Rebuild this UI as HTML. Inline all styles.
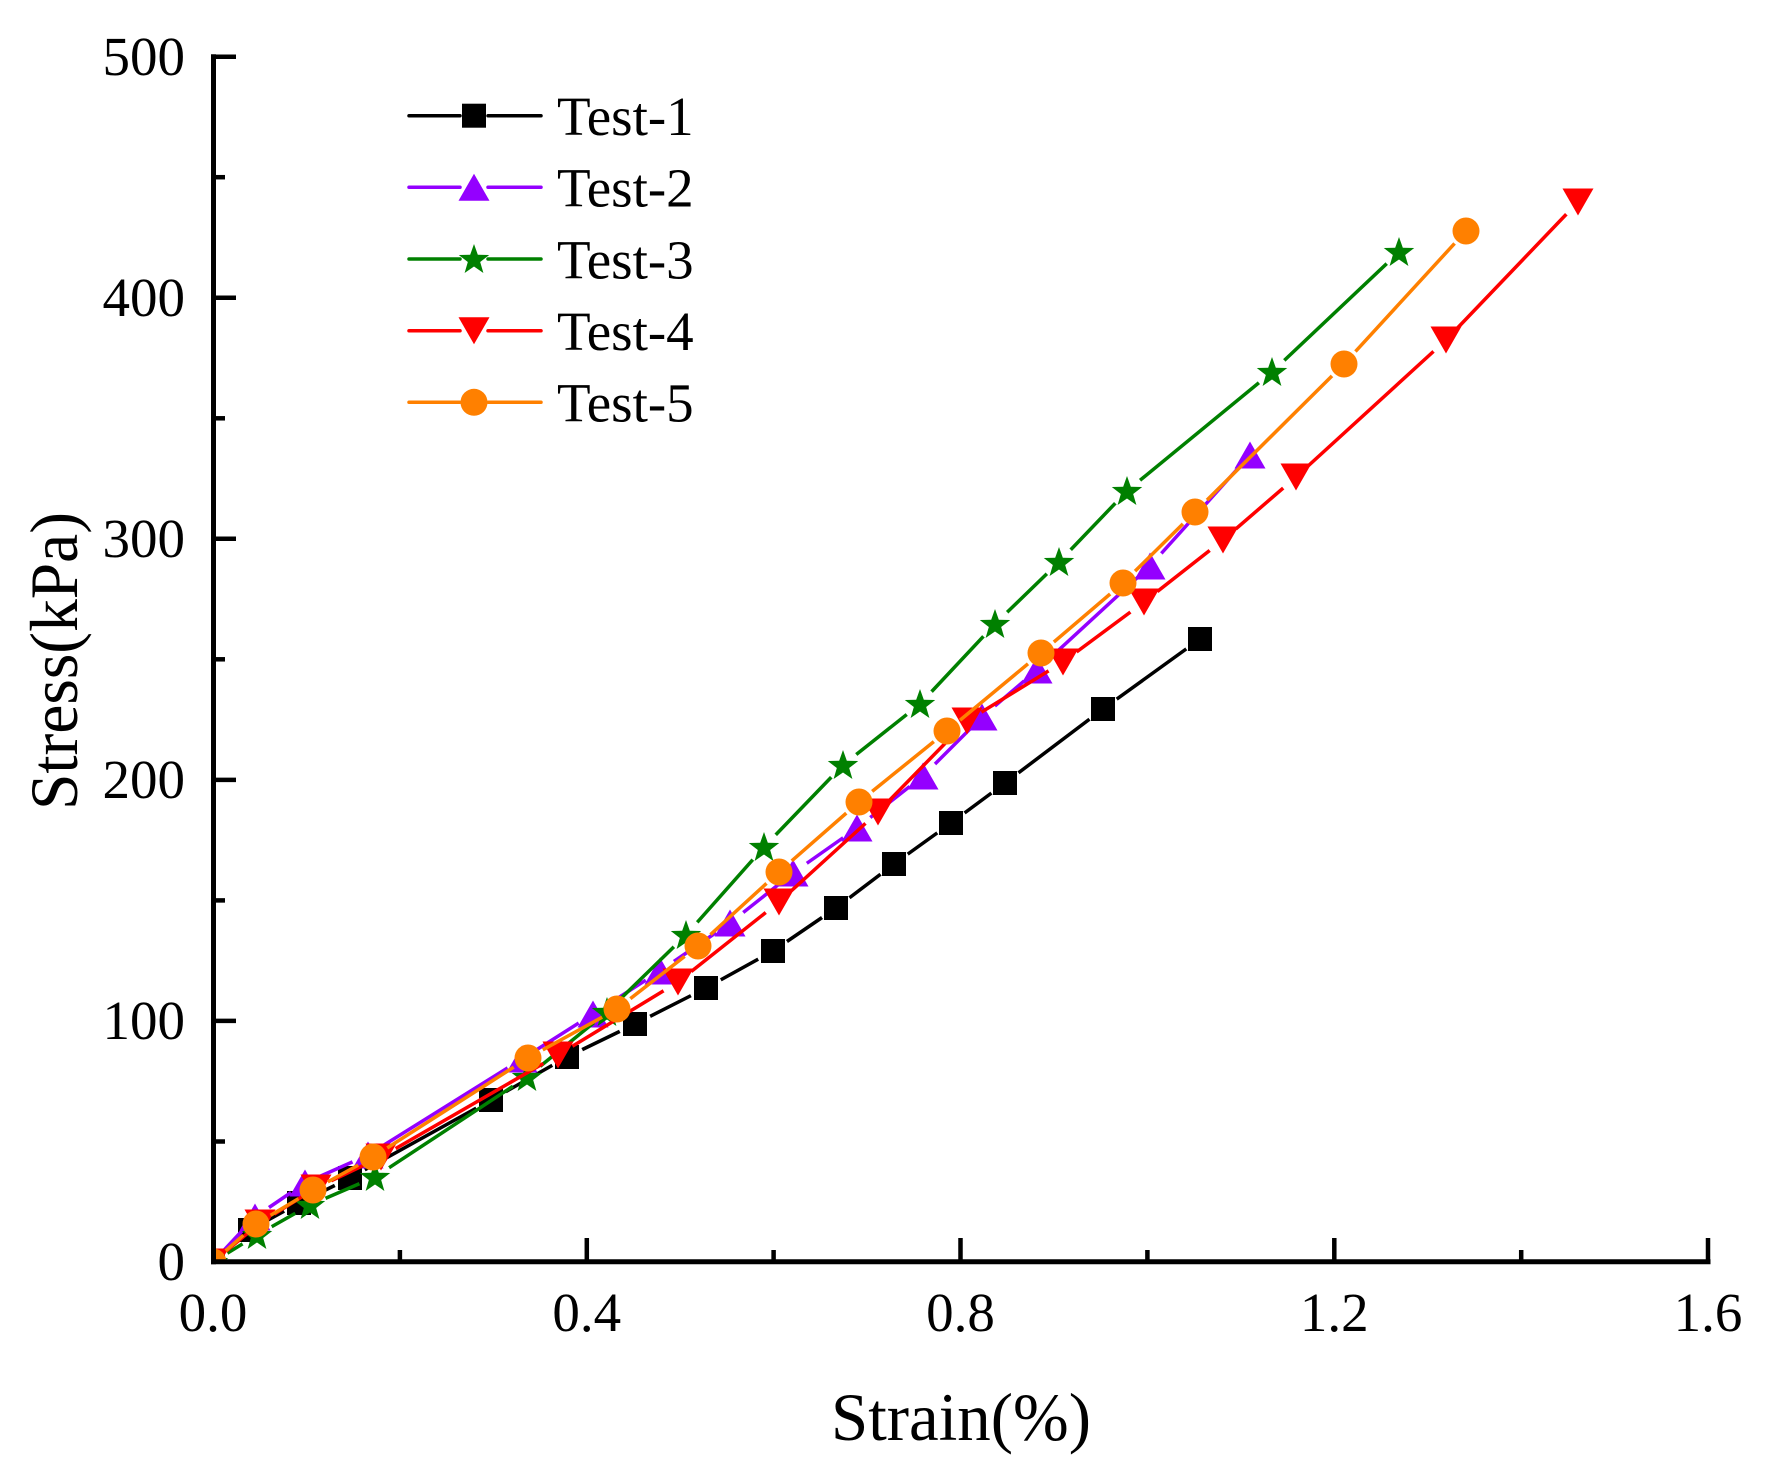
<!DOCTYPE html>
<html><head><meta charset="utf-8"><style>
html,body{margin:0;padding:0;background:#fff;}
svg{display:block;}
text{font-family:"Liberation Serif","Times New Roman",serif;fill:#000;}
</style></head><body>
<svg width="1772" height="1465" viewBox="0 0 1772 1465" xmlns="http://www.w3.org/2000/svg">
<defs>
<clipPath id="plot"><rect x="213" y="0" width="1559" height="1262"/></clipPath>
<mask id="m1" maskUnits="userSpaceOnUse" x="0" y="0" width="1772" height="1465"><rect width="1772" height="1465" fill="#fff"/><g fill="#000">
<circle cx="213" cy="1262" r="17"/><circle cx="250" cy="1230" r="17"/><circle cx="299" cy="1203" r="17"/><circle cx="350" cy="1178" r="17"/><circle cx="491" cy="1100" r="17"/><circle cx="567" cy="1057" r="17"/><circle cx="635" cy="1024" r="17"/><circle cx="706" cy="988" r="17"/><circle cx="773" cy="951" r="17"/><circle cx="836" cy="908" r="17"/><circle cx="894" cy="864" r="17"/><circle cx="951" cy="823" r="17"/><circle cx="1005" cy="783" r="17"/><circle cx="1103" cy="709" r="17"/><circle cx="1200" cy="639" r="17"/></g></mask>
<mask id="m2" maskUnits="userSpaceOnUse" x="0" y="0" width="1772" height="1465"><rect width="1772" height="1465" fill="#fff"/><g fill="#000">
<circle cx="213" cy="1262" r="17"/><circle cx="255" cy="1217" r="17"/><circle cx="305" cy="1183" r="17"/><circle cx="368" cy="1155" r="17"/><circle cx="522" cy="1059" r="17"/><circle cx="593" cy="1014" r="17"/><circle cx="660" cy="971" r="17"/><circle cx="730" cy="923" r="17"/><circle cx="793" cy="873" r="17"/><circle cx="857" cy="828" r="17"/><circle cx="923" cy="776" r="17"/><circle cx="982" cy="717" r="17"/><circle cx="1037" cy="670" r="17"/><circle cx="1150" cy="566" r="17"/><circle cx="1250" cy="455" r="17"/></g></mask>
<mask id="m3" maskUnits="userSpaceOnUse" x="0" y="0" width="1772" height="1465"><rect width="1772" height="1465" fill="#fff"/><g fill="#000">
<circle cx="213" cy="1262" r="17"/><circle cx="257" cy="1235" r="17"/><circle cx="310" cy="1205" r="17"/><circle cx="375" cy="1177" r="17"/><circle cx="527" cy="1077" r="17"/><circle cx="607" cy="1012" r="17"/><circle cx="686" cy="935" r="17"/><circle cx="764" cy="847" r="17"/><circle cx="843" cy="765" r="17"/><circle cx="920" cy="704" r="17"/><circle cx="995" cy="624" r="17"/><circle cx="1059" cy="562" r="17"/><circle cx="1127" cy="491" r="17"/><circle cx="1272" cy="372" r="17"/><circle cx="1399" cy="252" r="17"/></g></mask>
<mask id="m4" maskUnits="userSpaceOnUse" x="0" y="0" width="1772" height="1465"><rect width="1772" height="1465" fill="#fff"/><g fill="#000">
<circle cx="213" cy="1262" r="17"/><circle cx="260" cy="1223" r="17"/><circle cx="316" cy="1188" r="17"/><circle cx="381" cy="1157" r="17"/><circle cx="558" cy="1055" r="17"/><circle cx="678" cy="982" r="17"/><circle cx="779" cy="902" r="17"/><circle cx="878" cy="812" r="17"/><circle cx="967" cy="721" r="17"/><circle cx="1063" cy="662" r="17"/><circle cx="1144" cy="602" r="17"/><circle cx="1223" cy="540" r="17"/><circle cx="1296" cy="477" r="17"/><circle cx="1446" cy="340" r="17"/><circle cx="1578" cy="202" r="17"/></g></mask>
<mask id="m5" maskUnits="userSpaceOnUse" x="0" y="0" width="1772" height="1465"><rect width="1772" height="1465" fill="#fff"/><g fill="#000">
<circle cx="213" cy="1262" r="17"/><circle cx="256" cy="1224" r="17"/><circle cx="313" cy="1190" r="17"/><circle cx="373" cy="1157" r="17"/><circle cx="528" cy="1058" r="17"/><circle cx="617" cy="1009" r="17"/><circle cx="698" cy="946" r="17"/><circle cx="779" cy="872" r="17"/><circle cx="859" cy="802" r="17"/><circle cx="947" cy="731" r="17"/><circle cx="1041" cy="653" r="17"/><circle cx="1123" cy="583" r="17"/><circle cx="1195" cy="512" r="17"/><circle cx="1344" cy="364" r="17"/><circle cx="1466" cy="231" r="17"/></g></mask>
</defs>

<g clip-path="url(#plot)">
<!-- Test-1 -->
<polyline mask="url(#m1)" fill="none" stroke="#000" stroke-width="3.5" stroke-linecap="round" stroke-linejoin="round" points="213,1262 250,1230 299,1203 350,1178 491,1100 567,1057 635,1024 706,988 773,951 836,908 894,864 951,823 1005,783 1103,709 1200,639"/>
<g fill="#000">
<rect x="201" y="1250" width="24" height="24"/><rect x="238" y="1218" width="24" height="24"/><rect x="287" y="1191" width="24" height="24"/><rect x="338" y="1166" width="24" height="24"/><rect x="479" y="1088" width="24" height="24"/><rect x="555" y="1045" width="24" height="24"/><rect x="623" y="1012" width="24" height="24"/><rect x="694" y="976" width="24" height="24"/><rect x="761" y="939" width="24" height="24"/><rect x="824" y="896" width="24" height="24"/><rect x="882" y="852" width="24" height="24"/><rect x="939" y="811" width="24" height="24"/><rect x="993" y="771" width="24" height="24"/><rect x="1091" y="697" width="24" height="24"/><rect x="1188" y="627" width="24" height="24"/>
</g>
<!-- Test-2 -->
<polyline mask="url(#m2)" fill="none" stroke="#9400FF" stroke-width="3.5" stroke-linecap="round" stroke-linejoin="round" points="213,1262 255,1217 305,1183 368,1155 522,1059 593,1014 660,971 730,923 793,873 857,828 923,776 982,717 1037,670 1150,566 1250,455"/>
<g fill="#9400FF">
<polygon transform="translate(213,1262)" points="0,-13.5 15.5,13.5 -15.5,13.5"/>
<polygon transform="translate(255,1217)" points="0,-13.5 15.5,13.5 -15.5,13.5"/>
<polygon transform="translate(305,1183)" points="0,-13.5 15.5,13.5 -15.5,13.5"/>
<polygon transform="translate(368,1155)" points="0,-13.5 15.5,13.5 -15.5,13.5"/>
<polygon transform="translate(522,1059)" points="0,-13.5 15.5,13.5 -15.5,13.5"/>
<polygon transform="translate(593,1014)" points="0,-13.5 15.5,13.5 -15.5,13.5"/>
<polygon transform="translate(660,971)" points="0,-13.5 15.5,13.5 -15.5,13.5"/>
<polygon transform="translate(730,923)" points="0,-13.5 15.5,13.5 -15.5,13.5"/>
<polygon transform="translate(793,873)" points="0,-13.5 15.5,13.5 -15.5,13.5"/>
<polygon transform="translate(857,828)" points="0,-13.5 15.5,13.5 -15.5,13.5"/>
<polygon transform="translate(923,776)" points="0,-13.5 15.5,13.5 -15.5,13.5"/>
<polygon transform="translate(982,717)" points="0,-13.5 15.5,13.5 -15.5,13.5"/>
<polygon transform="translate(1037,670)" points="0,-13.5 15.5,13.5 -15.5,13.5"/>
<polygon transform="translate(1150,566)" points="0,-13.5 15.5,13.5 -15.5,13.5"/>
<polygon transform="translate(1250,455)" points="0,-13.5 15.5,13.5 -15.5,13.5"/>
</g>
<!-- Test-3 -->
<polyline mask="url(#m3)" fill="none" stroke="#008000" stroke-width="3.5" stroke-linecap="round" stroke-linejoin="round" points="213,1262 257,1235 310,1205 375,1177 527,1077 607,1012 686,935 764,847 843,765 920,704 995,624 1059,562 1127,491 1272,372 1399,252"/>
<g fill="#008000">
<polygon transform="translate(213,1263)" points="0,-16 3.82,-5.26 15.22,-4.94 6.18,2.01 9.4,12.94 0,6.5 -9.4,12.94 -6.18,2.01 -15.22,-4.94 -3.82,-5.26"/>
<polygon transform="translate(257,1236)" points="0,-16 3.82,-5.26 15.22,-4.94 6.18,2.01 9.4,12.94 0,6.5 -9.4,12.94 -6.18,2.01 -15.22,-4.94 -3.82,-5.26"/>
<polygon transform="translate(310,1206)" points="0,-16 3.82,-5.26 15.22,-4.94 6.18,2.01 9.4,12.94 0,6.5 -9.4,12.94 -6.18,2.01 -15.22,-4.94 -3.82,-5.26"/>
<polygon transform="translate(375,1178)" points="0,-16 3.82,-5.26 15.22,-4.94 6.18,2.01 9.4,12.94 0,6.5 -9.4,12.94 -6.18,2.01 -15.22,-4.94 -3.82,-5.26"/>
<polygon transform="translate(527,1078)" points="0,-16 3.82,-5.26 15.22,-4.94 6.18,2.01 9.4,12.94 0,6.5 -9.4,12.94 -6.18,2.01 -15.22,-4.94 -3.82,-5.26"/>
<polygon transform="translate(607,1013)" points="0,-16 3.82,-5.26 15.22,-4.94 6.18,2.01 9.4,12.94 0,6.5 -9.4,12.94 -6.18,2.01 -15.22,-4.94 -3.82,-5.26"/>
<polygon transform="translate(686,936)" points="0,-16 3.82,-5.26 15.22,-4.94 6.18,2.01 9.4,12.94 0,6.5 -9.4,12.94 -6.18,2.01 -15.22,-4.94 -3.82,-5.26"/>
<polygon transform="translate(764,848)" points="0,-16 3.82,-5.26 15.22,-4.94 6.18,2.01 9.4,12.94 0,6.5 -9.4,12.94 -6.18,2.01 -15.22,-4.94 -3.82,-5.26"/>
<polygon transform="translate(843,766)" points="0,-16 3.82,-5.26 15.22,-4.94 6.18,2.01 9.4,12.94 0,6.5 -9.4,12.94 -6.18,2.01 -15.22,-4.94 -3.82,-5.26"/>
<polygon transform="translate(920,705)" points="0,-16 3.82,-5.26 15.22,-4.94 6.18,2.01 9.4,12.94 0,6.5 -9.4,12.94 -6.18,2.01 -15.22,-4.94 -3.82,-5.26"/>
<polygon transform="translate(995,625)" points="0,-16 3.82,-5.26 15.22,-4.94 6.18,2.01 9.4,12.94 0,6.5 -9.4,12.94 -6.18,2.01 -15.22,-4.94 -3.82,-5.26"/>
<polygon transform="translate(1059,563)" points="0,-16 3.82,-5.26 15.22,-4.94 6.18,2.01 9.4,12.94 0,6.5 -9.4,12.94 -6.18,2.01 -15.22,-4.94 -3.82,-5.26"/>
<polygon transform="translate(1127,492)" points="0,-16 3.82,-5.26 15.22,-4.94 6.18,2.01 9.4,12.94 0,6.5 -9.4,12.94 -6.18,2.01 -15.22,-4.94 -3.82,-5.26"/>
<polygon transform="translate(1272,373)" points="0,-16 3.82,-5.26 15.22,-4.94 6.18,2.01 9.4,12.94 0,6.5 -9.4,12.94 -6.18,2.01 -15.22,-4.94 -3.82,-5.26"/>
<polygon transform="translate(1399,253)" points="0,-16 3.82,-5.26 15.22,-4.94 6.18,2.01 9.4,12.94 0,6.5 -9.4,12.94 -6.18,2.01 -15.22,-4.94 -3.82,-5.26"/>
</g>
<!-- Test-4 -->
<polyline mask="url(#m4)" fill="none" stroke="#FF0000" stroke-width="3.5" stroke-linecap="round" stroke-linejoin="round" points="213,1262 260,1223 316,1188 381,1157 558,1055 678,982 779,902 878,812 967,721 1063,662 1144,602 1223,540 1296,477 1446,340 1578,202"/>
<g fill="#FF0000">
<polygon transform="translate(213,1262)" points="-15.5,-13.5 15.5,-13.5 0,13.5"/>
<polygon transform="translate(260,1223)" points="-15.5,-13.5 15.5,-13.5 0,13.5"/>
<polygon transform="translate(316,1188)" points="-15.5,-13.5 15.5,-13.5 0,13.5"/>
<polygon transform="translate(381,1157)" points="-15.5,-13.5 15.5,-13.5 0,13.5"/>
<polygon transform="translate(558,1055)" points="-15.5,-13.5 15.5,-13.5 0,13.5"/>
<polygon transform="translate(678,982)" points="-15.5,-13.5 15.5,-13.5 0,13.5"/>
<polygon transform="translate(779,902)" points="-15.5,-13.5 15.5,-13.5 0,13.5"/>
<polygon transform="translate(878,812)" points="-15.5,-13.5 15.5,-13.5 0,13.5"/>
<polygon transform="translate(967,721)" points="-15.5,-13.5 15.5,-13.5 0,13.5"/>
<polygon transform="translate(1063,662)" points="-15.5,-13.5 15.5,-13.5 0,13.5"/>
<polygon transform="translate(1144,602)" points="-15.5,-13.5 15.5,-13.5 0,13.5"/>
<polygon transform="translate(1223,540)" points="-15.5,-13.5 15.5,-13.5 0,13.5"/>
<polygon transform="translate(1296,477)" points="-15.5,-13.5 15.5,-13.5 0,13.5"/>
<polygon transform="translate(1446,340)" points="-15.5,-13.5 15.5,-13.5 0,13.5"/>
<polygon transform="translate(1578,202)" points="-15.5,-13.5 15.5,-13.5 0,13.5"/>
</g>
<!-- Test-5 -->
<polyline mask="url(#m5)" fill="none" stroke="#FF8000" stroke-width="3.5" stroke-linecap="round" stroke-linejoin="round" points="213,1262 256,1224 313,1190 373,1157 528,1058 617,1009 698,946 779,872 859,802 947,731 1041,653 1123,583 1195,512 1344,364 1466,231"/>
<g fill="#FF8000">
<circle cx="213" cy="1262" r="13.5"/><circle cx="256" cy="1224" r="13.5"/><circle cx="313" cy="1190" r="13.5"/><circle cx="373" cy="1157" r="13.5"/><circle cx="528" cy="1058" r="13.5"/><circle cx="617" cy="1009" r="13.5"/><circle cx="698" cy="946" r="13.5"/><circle cx="779" cy="872" r="13.5"/><circle cx="859" cy="802" r="13.5"/><circle cx="947" cy="731" r="13.5"/><circle cx="1041" cy="653" r="13.5"/><circle cx="1123" cy="583" r="13.5"/><circle cx="1195" cy="512" r="13.5"/><circle cx="1344" cy="364" r="13.5"/><circle cx="1466" cy="231" r="13.5"/>
</g>
</g>

<!-- Axes -->
<g stroke="#000" fill="none">
<line x1="213.5" y1="54.2" x2="213.5" y2="1264.2" stroke-width="5"/>
<line x1="211" y1="1261.7" x2="1710.5" y2="1261.7" stroke-width="5"/>
<g stroke-width="4.5">
<line x1="213" y1="56.8" x2="236" y2="56.8"/>
<line x1="213" y1="297.8" x2="236" y2="297.8"/>
<line x1="213" y1="538.8" x2="236" y2="538.8"/>
<line x1="213" y1="779.9" x2="236" y2="779.9"/>
<line x1="213" y1="1020.9" x2="236" y2="1020.9"/>
<line x1="213" y1="177.2" x2="225" y2="177.2"/>
<line x1="213" y1="418.3" x2="225" y2="418.3"/>
<line x1="213" y1="659.3" x2="225" y2="659.3"/>
<line x1="213" y1="900.4" x2="225" y2="900.4"/>
<line x1="213" y1="1141.5" x2="225" y2="1141.5"/>
<line x1="586.8" y1="1262" x2="586.8" y2="1238"/>
<line x1="960.5" y1="1262" x2="960.5" y2="1238"/>
<line x1="1334.3" y1="1262" x2="1334.3" y2="1238"/>
<line x1="1708" y1="1262" x2="1708" y2="1238"/>
<line x1="399.9" y1="1262" x2="399.9" y2="1250"/>
<line x1="773.6" y1="1262" x2="773.6" y2="1250"/>
<line x1="1147.4" y1="1262" x2="1147.4" y2="1250"/>
<line x1="1521.2" y1="1262" x2="1521.2" y2="1250"/>
</g>
</g>

<!-- Tick labels -->
<g font-size="55" text-anchor="end">
<text x="185" y="75">500</text>
<text x="185" y="316">400</text>
<text x="185" y="557">300</text>
<text x="185" y="798">200</text>
<text x="185" y="1039">100</text>
<text x="185" y="1280">0</text>
</g>
<g font-size="55" text-anchor="middle">
<text x="213" y="1331">0.0</text>
<text x="586.8" y="1331">0.4</text>
<text x="960.5" y="1331">0.8</text>
<text x="1334.3" y="1331">1.2</text>
<text x="1708" y="1331">1.6</text>
</g>

<!-- Axis titles -->
<text x="961" y="1440" font-size="68" text-anchor="middle" textLength="260" lengthAdjust="spacingAndGlyphs">Strain(%)</text>
<text x="77" y="661" font-size="68" text-anchor="middle" transform="rotate(-90 77 661)" textLength="298" lengthAdjust="spacingAndGlyphs">Stress(kPa)</text>

<!-- Legend -->
<g stroke-width="3.5" stroke-linecap="round" fill="none">
<line x1="409" y1="115.7" x2="460" y2="115.7" stroke="#000"/><line x1="488" y1="115.7" x2="541" y2="115.7" stroke="#000"/>
<line x1="409" y1="187.3" x2="460" y2="187.3" stroke="#9400FF"/><line x1="488" y1="187.3" x2="541" y2="187.3" stroke="#9400FF"/>
<line x1="409" y1="259" x2="460" y2="259" stroke="#008000"/><line x1="488" y1="259" x2="541" y2="259" stroke="#008000"/>
<line x1="409" y1="330.7" x2="460" y2="330.7" stroke="#FF0000"/><line x1="488" y1="330.7" x2="541" y2="330.7" stroke="#FF0000"/>
<line x1="409" y1="402.3" x2="460" y2="402.3" stroke="#FF8000"/><line x1="488" y1="402.3" x2="541" y2="402.3" stroke="#FF8000"/>
</g>
<rect x="462" y="103.7" width="24" height="24" fill="#000"/>
<polygon transform="translate(474,187.3)" points="0,-13.5 15.5,13.5 -15.5,13.5" fill="#9400FF"/>
<polygon transform="translate(474,260)" points="0,-16 3.82,-5.26 15.22,-4.94 6.18,2.01 9.4,12.94 0,6.5 -9.4,12.94 -6.18,2.01 -15.22,-4.94 -3.82,-5.26" fill="#008000"/>
<polygon transform="translate(474,330.7)" points="-15.5,-13.5 15.5,-13.5 0,13.5" fill="#FF0000"/>
<circle cx="474" cy="402.3" r="13.5" fill="#FF8000"/>
<g font-size="55">
<text x="557" y="135">Test-1</text>
<text x="557" y="206.6">Test-2</text>
<text x="557" y="278.3">Test-3</text>
<text x="557" y="350">Test-4</text>
<text x="557" y="421.6">Test-5</text>
</g>
</svg>
</body></html>
